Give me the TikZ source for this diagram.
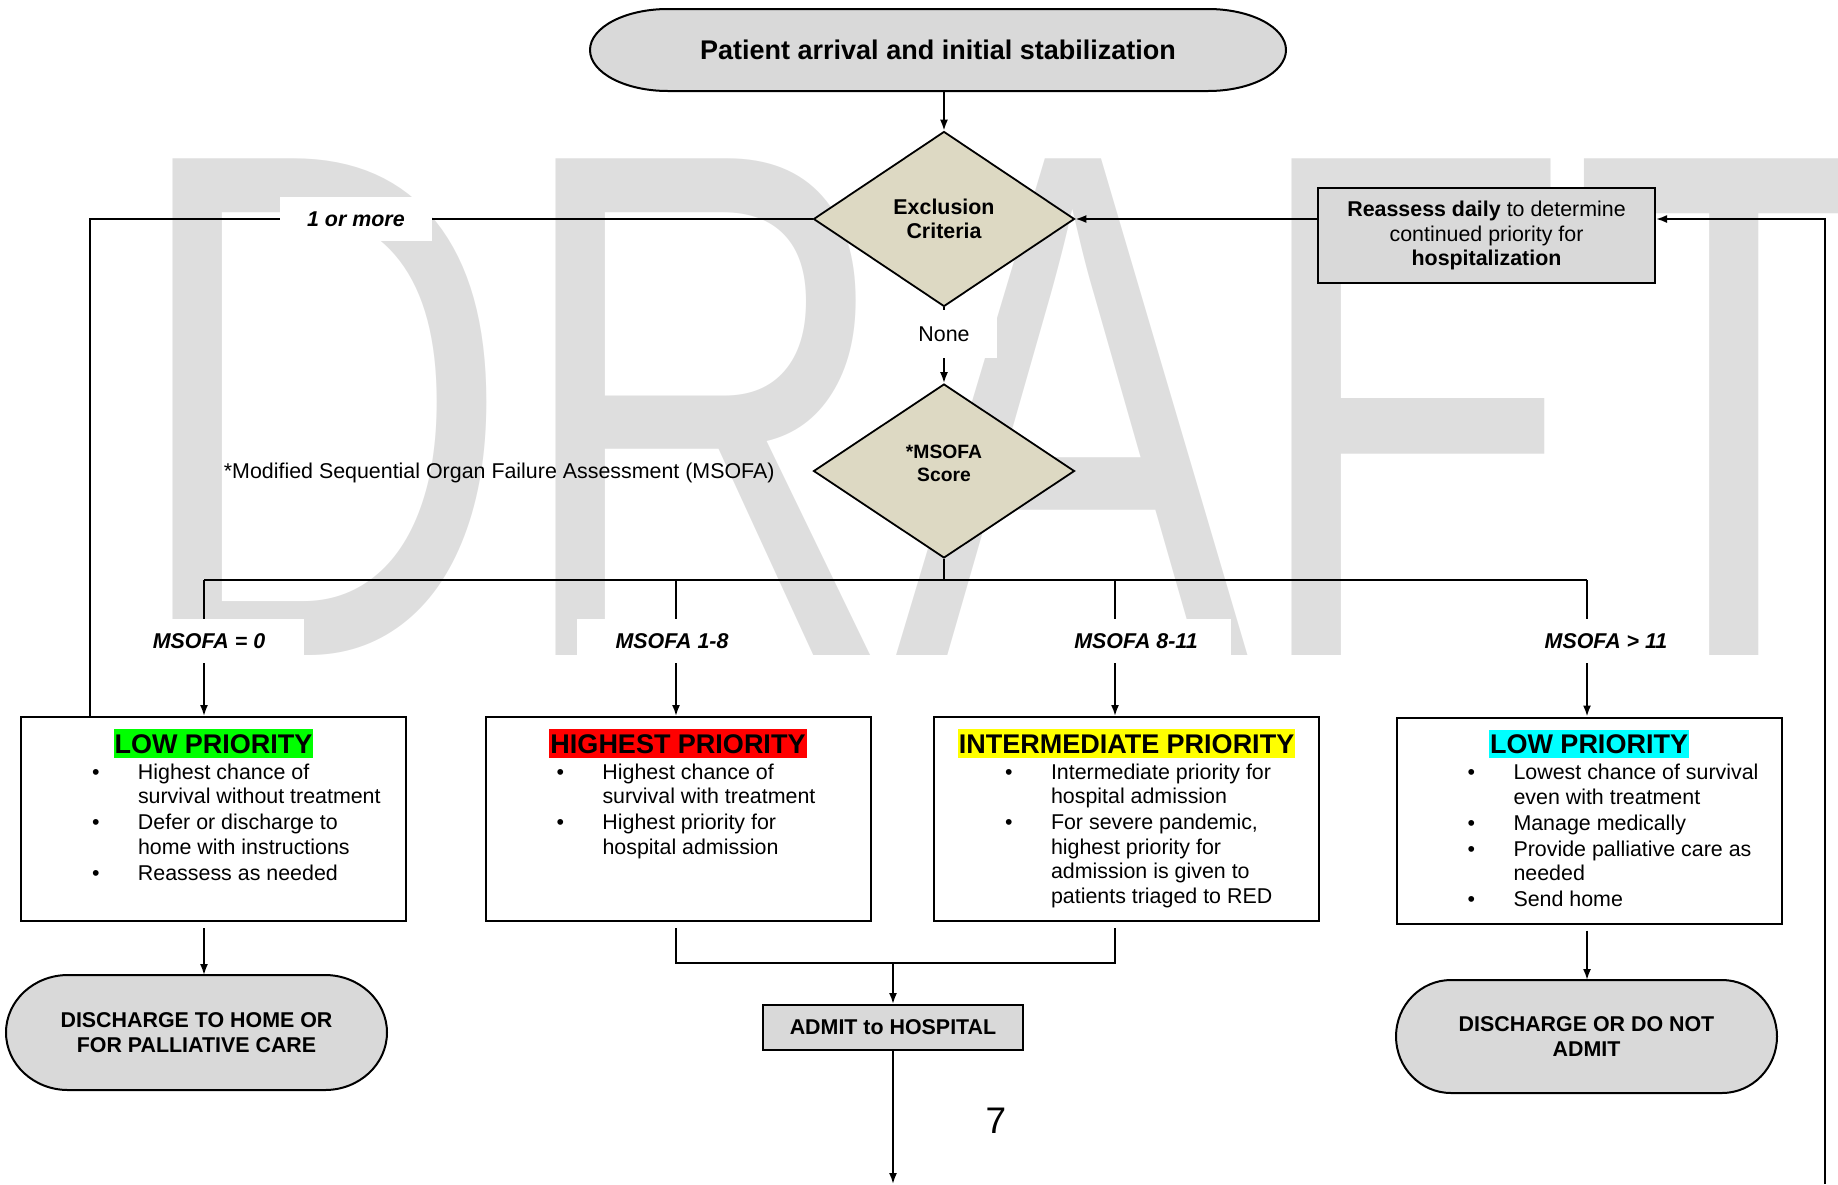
\documentclass[tikz,border=0pt]{standalone}
\usepackage{fontspec}
\setmainfont{Liberation Sans}
\usepackage{graphicx}
\usetikzlibrary{shapes.geometric,arrows.meta,backgrounds}

\definecolor{boxgray}{RGB}{217,217,217}
\definecolor{decfill}{RGB}{221,217,195}
\definecolor{wmgray}{RGB}{222,222,222}
\definecolor{hlgreen}{RGB}{0,255,0}
\definecolor{hlred}{RGB}{255,0,0}
\definecolor{hlyellow}{RGB}{255,255,0}
\definecolor{hlcyan}{RGB}{0,255,255}

\newcommand{\flowfont}{\fontsize{21.4}{24.5}\selectfont}
\newcommand{\phead}[2]{{\centering\fontsize{27}{27}\selectfont\bfseries
  \setlength{\fboxsep}{1pt}\colorbox{#1}{\rule[-3.5pt]{0pt}{26.5pt}#2}\par}}
\newcommand{\pitem}[1]{\par\vspace{1.5pt}\noindent\makebox[117pt][l]{\hspace*{71pt}\textbullet}#1}
\newcommand{\pline}[1]{\par\noindent\hspace*{117pt}#1}

\tikzset{
  box/.style={draw, line width=2, inner sep=0, font=\flowfont},
  gbox/.style={box, fill=boxgray},
  term/.style={inner sep=0, outer sep=0, align=center, font=\flowfont\bfseries},
  dec/.style={diamond, draw, line width=1.8, fill=decfill, inner sep=0, align=center, font=\flowfont\bfseries},
  lbl/.style={fill=white, inner sep=0, minimum width=190, minimum height=44, pos=0.45, font=\flowfont\bfseries\itshape},
}

\begin{document}
\begin{tikzpicture}[x=1pt, y=-1pt, line width=1.8, >={Latex[length=11pt,width=8pt]}]
    \useasboundingbox (0,0) rectangle (1838,1184);
    % Watermark
    \node[anchor=base west, inner sep=0, text=wmgray, font=\fontsize{722}{722}\selectfont] (wm) at (129,655) {\scalebox{0.734}[1]{DRAFT}};
    % Top part
    \node[term, minimum width=696, minimum height=82, font=\fontsize{27}{30}\selectfont\bfseries] (start) at (938,50) {Patient arrival and initial stabilization};
    \node[dec, minimum width=261, minimum height=175] (excl) at (944,219) {Exclusion\\Criteria};
    \node[gbox, minimum width=337, minimum height=95, align=center] (reas) at (1486.5,235.5) {\textbf{Reassess daily} to determine\\continued priority for\\\textbf{hospitalization}};
    \node[dec, minimum width=261, minimum height=174, font=\fontsize{19.3}{23.4}\selectfont\bfseries] (msofa) at (944,471) {*MSOFA\\Score\\[-8pt]\mbox{}};
    \node[anchor=base west, inner sep=0, font=\flowfont] (foot) at (223,478) {*Modified Sequential Organ Failure Assessment (MSOFA)};
    % Priority boxes
    \node[box, minimum width=385, minimum height=204] (low1) at (213.5,819) {\parbox[c][180pt][t]{385pt}{%
      \phead{hlgreen}{LOW PRIORITY}
      \pitem{Highest chance of}\pline{survival without treatment}
      \pitem{Defer or discharge to}\pline{home with instructions}
      \pitem{Reassess as needed}}};
    \node[box, minimum width=385, minimum height=204] (high) at (678,819) {\parbox[c][180pt][t]{385pt}{%
      \phead{hlred}{HIGHEST PRIORITY}
      \pitem{Highest chance of}\pline{survival with treatment}
      \pitem{Highest priority for}\pline{hospital admission}}};
    \node[box, minimum width=385, minimum height=204] (inter) at (1126.5,819) {\parbox[c][180pt][t]{385pt}{%
      \phead{hlyellow}{INTERMEDIATE PRIORITY}
      \pitem{Intermediate priority for}\pline{hospital admission}
      \pitem{For severe pandemic,}\pline{highest priority for}\pline{admission is given to}\pline{patients triaged to RED}}};
    \node[box, minimum width=385, minimum height=206] (low4) at (1589,820.5) {\parbox[c][182pt][t]{385pt}{%
      \phead{hlcyan}{LOW PRIORITY}
      \pitem{Lowest chance of survival}\pline{even with treatment}
      \pitem{Manage medically}
      \pitem{Provide palliative care as}\pline{needed}
      \pitem{Send home}}};
    % Bottom part
    \node[term, minimum width=381, minimum height=115] (home) at (196.5,1032.5) {DISCHARGE TO HOME OR\\FOR PALLIATIVE CARE};
    \node[term, minimum width=381, minimum height=113] (nodmit) at (1586.5,1036.5) {DISCHARGE OR DO NOT\\ADMIT};
    \node[gbox, minimum width=260, minimum height=45, font=\flowfont\bfseries] (admit) at (893,1027.5) {ADMIT to HOSPITAL};
    \node[font=\fontsize{37}{37}\selectfont] (pgno) at (996,1121) {7};
    \begin{scope}[on background layer]
      \foreach \n/\rx/\ry in {start/78/41, home/62/57.5, nodmit/55/56.5}
        \filldraw[fill=boxgray, line width=2] ([xshift=\rx]\n.north west) -- ([xshift=-\rx]\n.north east)
          arc[start angle=90, end angle=-90, x radius=\rx*1pt, y radius=\ry*1pt]
          -- ([xshift=\rx]\n.south west)
          arc[start angle=270, end angle=90, x radius=\rx*1pt, y radius=\ry*1pt] -- cycle;
    \end{scope}
    % Connectors
    \coordinate (br1) at (204,580);
    \coordinate (br2) at (676,580);
    \coordinate (br3) at (1115,580);
    \coordinate (br4) at (1587,580);
    \coordinate (loop) at (1825,1184);
    \coordinate (exit) at (893,1184);
    \draw[->] (start.south -| excl.north) -- (excl.north);
    \draw (excl.west) -| node[lbl, minimum width=152, pos=0.316] (ormore) {1 or more} ([xshift=70]low1.north west);
    \draw[->] (excl.south) -- node[lbl, minimum width=105, minimum height=48, pos=0.35, font=\flowfont] (none) {None} (msofa.north);
    \draw[->] (reas.west |- excl.east) -- (excl.east);
    \draw[->] (loop) |- (reas.east |- excl.east);
    \draw (msofa.south) -- (msofa.south |- br1);
    \draw (br1) -- (br4);
    \draw[->] (br1) -- node[lbl, xshift=5] (lab1) {MSOFA = 0} (br1 |- low1.north);
    \draw[->] (br2) -- node[lbl, xshift=-4] (lab2) {MSOFA 1-8} (br2 |- high.north);
    \draw[->] (br3) -- node[lbl, xshift=21] (lab3) {MSOFA 8-11} (br3 |- inter.north);
    \draw[->] (br4) -- node[lbl, xshift=19] (lab4) {MSOFA > 11} (br4 |- low4.north);
    \draw[->, shorten <=6pt] (br1 |- low1.south) -- (br1 |- home.north);
    \draw[->, shorten <=6pt] (br4 |- low4.south) -- (br4 |- nodmit.north);
    \draw[shorten <=6pt, shorten >=6pt] (br2 |- high.south) -- ++(0,41) coordinate (jn) -| (br3 |- inter.south);
    \draw[->] (jn -| admit.north) -- (admit.north);
    \draw[->] (admit.south) -- (exit);
\end{tikzpicture}
\end{document}
